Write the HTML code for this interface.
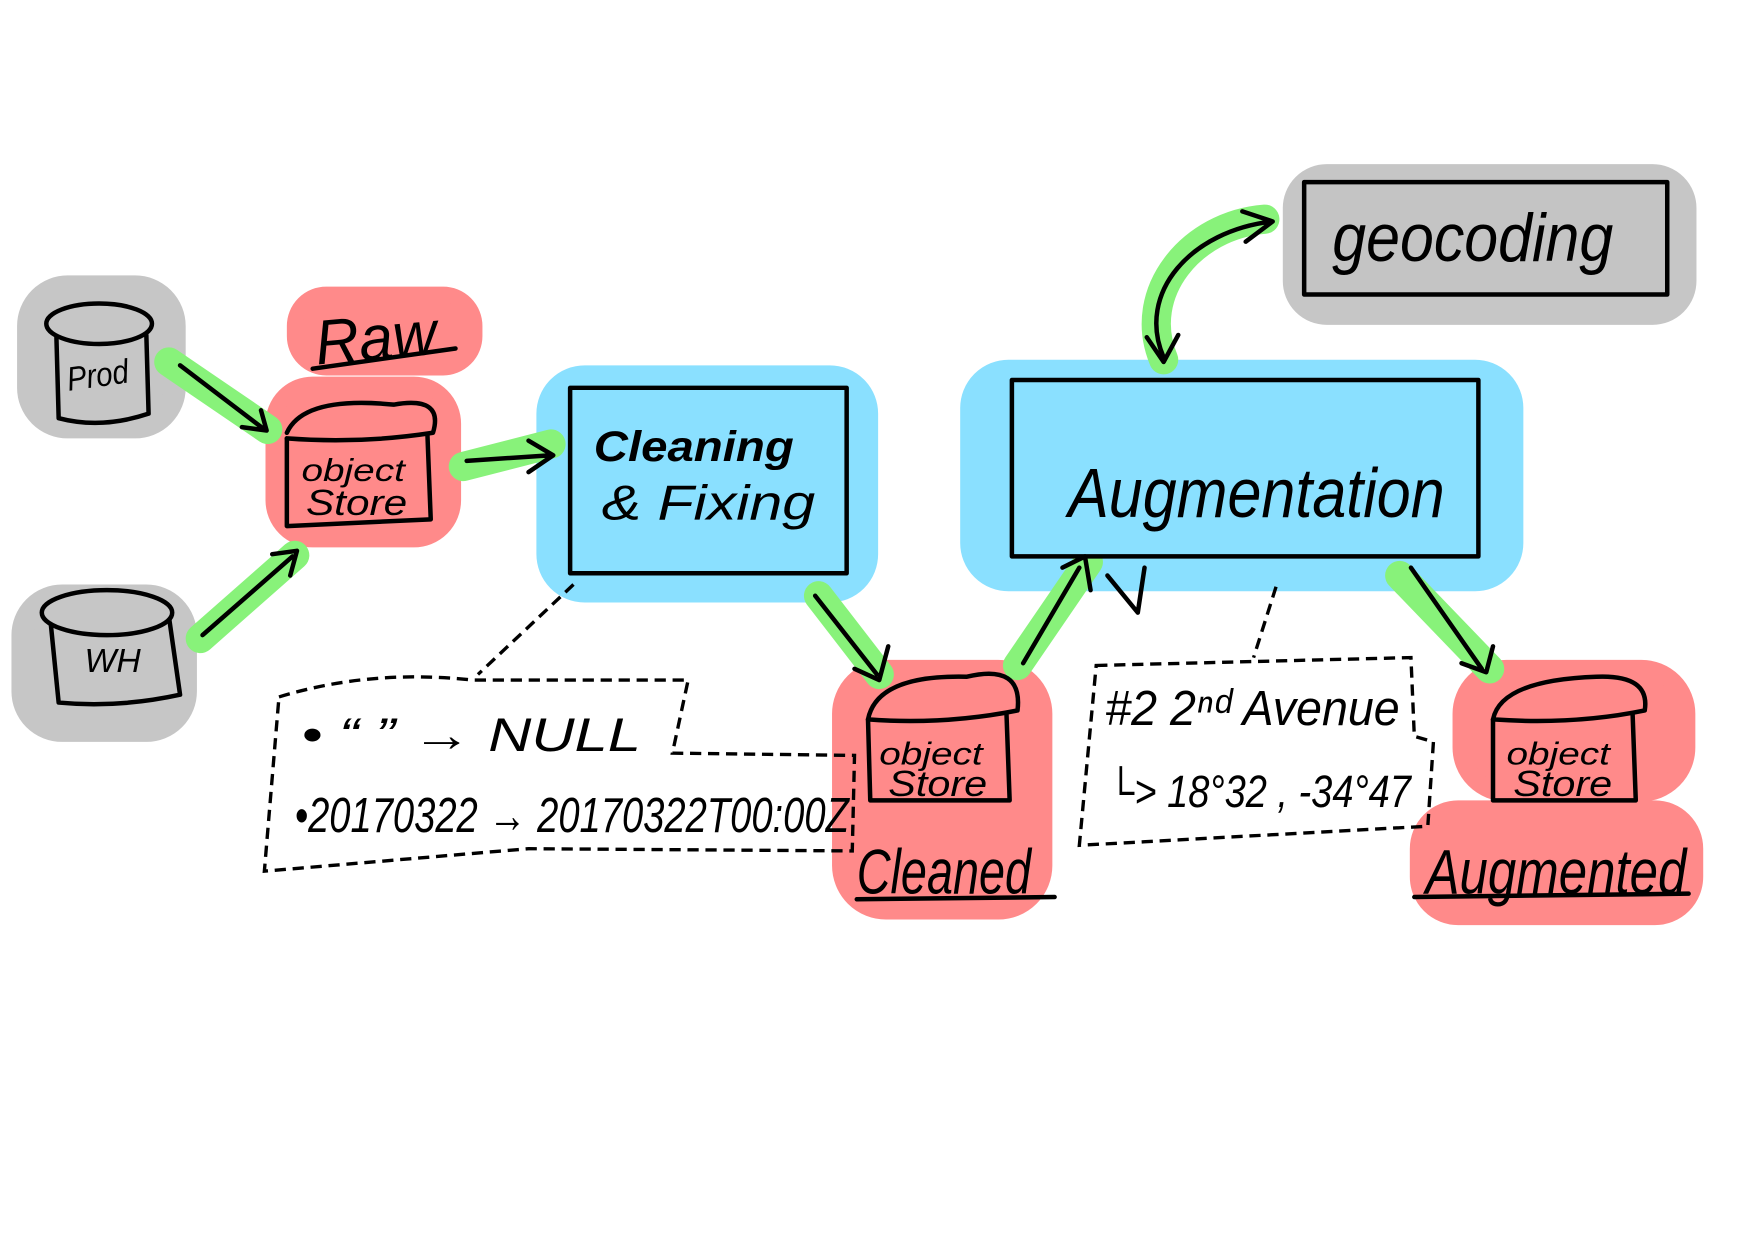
<!DOCTYPE html>
<html><head><meta charset="utf-8"><style>
html,body{margin:0;padding:0;background:#fff;width:1754px;height:1241px;overflow:hidden}
svg{display:block}
text{font-family:"Liberation Sans",sans-serif;fill:#000}
</style></head><body>
<svg width="1754" height="1241" viewBox="0 0 1560 1104" xmlns="http://www.w3.org/2000/svg">
<g stroke-linejoin="round" stroke-linecap="round">
<rect x="25" y="255" width="130" height="125" rx="35" fill="#c6c6c6" stroke="#c6c6c6" stroke-width="20"/>
<rect x="20" y="530" width="145" height="120" rx="35" fill="#c6c6c6" stroke="#c6c6c6" stroke-width="20"/>
<rect x="1150" y="155" width="350" height="125" rx="30" fill="#c6c6c6" stroke="#c6c6c6" stroke-width="18"/>
<rect x="262" y="262" width="160" height="65" rx="28" fill="#ff8a8a" stroke="#ff8a8a" stroke-width="14"/>
<rect x="243" y="342" width="160" height="138" rx="35" fill="#ff8a8a" stroke="#ff8a8a" stroke-width="14"/>
<rect x="748" y="595" width="180" height="215" rx="40" fill="#ff8a8a" stroke="#ff8a8a" stroke-width="16"/>
<rect x="1300" y="595" width="200" height="110" rx="40" fill="#ff8a8a" stroke="#ff8a8a" stroke-width="16"/>
<rect x="1262" y="720" width="245" height="95" rx="35" fill="#ff8a8a" stroke="#ff8a8a" stroke-width="16"/>
<rect x="485" y="333" width="288" height="195" rx="35" fill="#8ae0ff" stroke="#8ae0ff" stroke-width="16"/>
<rect x="862" y="328" width="485" height="190" rx="35" fill="#8ae0ff" stroke="#8ae0ff" stroke-width="16"/>
<g stroke="#88f27a" stroke-width="26" fill="none">
<path d="M150 322 L238 382"/>
<path d="M178 568 L262 494"/>
<path d="M412 415 L490 395"/>
<path d="M728 530 L782 600"/>
<path d="M905 592 L968 500"/>
<path d="M1245 512 L1325 595"/>
<path d="M1125 195 C1060 200 1010 260 1035 320"/>
</g>
</g>
<g fill="none" stroke="#000" stroke-width="4" stroke-linecap="round" stroke-linejoin="round">
<rect x="507" y="345" width="246" height="165" fill="#8ae0ff"/>
<rect x="900" y="338" width="415" height="157" fill="#8ae0ff"/>
<rect x="1160" y="162" width="323" height="100" fill="#c4c4c4"/>
<path d="M50 300 L52 372 Q90 382 132 368 L130 298" fill="#c6c6c6"/>
<ellipse cx="88" cy="288" rx="47" ry="18" fill="#c6c6c6"/>
<path d="M45 555 L52 625 Q105 630 160 618 L150 548" fill="#c6c6c6"/>
<ellipse cx="95" cy="545" rx="58" ry="20" fill="#c6c6c6"/>
<g fill="#ff8a8a">
<path d="M255 390 L255 468 L383 462 L380 385"/>
<path d="M255 385 Q270 352 350 360 Q395 352 385 385 Q320 395 255 390"/>
<path d="M772 640 L774 712 L898 712 L895 630"/>
<path d="M772 640 Q780 600 860 602 Q910 590 905 632 Q840 645 772 640"/>
<path d="M1328 640 L1328 712 L1455 712 L1452 630"/>
<path d="M1328 640 Q1335 605 1420 602 Q1468 600 1463 632 Q1400 645 1328 640"/>
</g>
<path d="M160 325 L235 382 M215 380 L237 383 L232 365"/>
<path d="M180 565 L260 495 M242 493 L264 490 L258 512"/>
<path d="M415 410 L490 405 M470 392 L492 405 L470 420"/>
<path d="M725 530 L780 600 M790 575 L782 605 L760 595"/>
<path d="M910 590 L960 505 M945 505 L965 495 L970 525"/>
<path d="M985 512 L1012 545 L1018 505"/>
<path d="M1255 505 L1318 595 M1328 575 L1322 598 L1300 590"/>
<path d="M1132 197 C1060 205 1010 260 1035 318 M1020 300 L1035 322 L1048 298 M1105 188 L1132 197 L1108 215"/>
<path d="M278 328 L405 310"/>
<path d="M762 800 L938 798"/>
<path d="M1258 798 L1502 795"/>
</g>
<g fill="none" stroke="#000" stroke-width="3" stroke-dasharray="10 6">
<path d="M510 520 L425 600"/>
<path d="M248 620 Q330 595 420 605 L612 605 L598 670 L760 672 L758 757 L470 755 L235 775 Z"/>
<path d="M1135 522 L1115 585"/>
<path d="M975 592 L1255 585 L1258 655 L1275 660 L1270 735 L960 752 Z"/>
</g>
<g font-style="italic">
<text x="60" y="345" font-size="30" textLength="55" lengthAdjust="spacingAndGlyphs" transform="rotate(-8 80 340)">Prod</text>
<text x="75" y="598" font-size="30" textLength="50" lengthAdjust="spacingAndGlyphs">WH</text>
<text x="280" y="320" font-size="56" textLength="108" lengthAdjust="spacingAndGlyphs" transform="rotate(-5 330 300)">Raw</text>
<text x="268" y="428" font-size="28" textLength="92" lengthAdjust="spacingAndGlyphs">object</text>
<text x="272" y="458" font-size="32" textLength="90" lengthAdjust="spacingAndGlyphs">Store</text>
<text x="528" y="410" font-size="38" font-weight="bold" textLength="178" lengthAdjust="spacingAndGlyphs">Cleaning</text>
<text x="535" y="462" font-size="44" textLength="190" lengthAdjust="spacingAndGlyphs">&amp; Fixing</text>
<text x="950" y="460" font-size="62" textLength="335" lengthAdjust="spacingAndGlyphs">Augmentation</text>
<text x="1185" y="232" font-size="60" textLength="250" lengthAdjust="spacingAndGlyphs">geocoding</text>
<text x="782" y="680" font-size="28" textLength="92" lengthAdjust="spacingAndGlyphs">object</text>
<text x="790" y="708" font-size="32" textLength="88" lengthAdjust="spacingAndGlyphs">Store</text>
<text x="1340" y="680" font-size="28" textLength="92" lengthAdjust="spacingAndGlyphs">object</text>
<text x="1346" y="708" font-size="32" textLength="88" lengthAdjust="spacingAndGlyphs">Store</text>
<text x="762" y="795" font-size="56" textLength="155" lengthAdjust="spacingAndGlyphs">Cleaned</text>
<text x="1268" y="795" font-size="56" textLength="232" lengthAdjust="spacingAndGlyphs">Augmented</text>
<text x="268" y="668" font-size="42" textLength="302" lengthAdjust="spacingAndGlyphs">•  “  ”  → NULL</text>
<text x="262" y="740" font-size="44" textLength="493" lengthAdjust="spacingAndGlyphs">•20170322 → 20170322T00:00Z</text>
<text x="983" y="645" font-size="44" textLength="262" lengthAdjust="spacingAndGlyphs">#2 2ⁿᵈ Avenue</text>
<text x="985" y="718" font-size="40" textLength="270" lengthAdjust="spacingAndGlyphs">└&gt; 18°32 , -34°47</text>
</g>
</svg>
</body></html>
